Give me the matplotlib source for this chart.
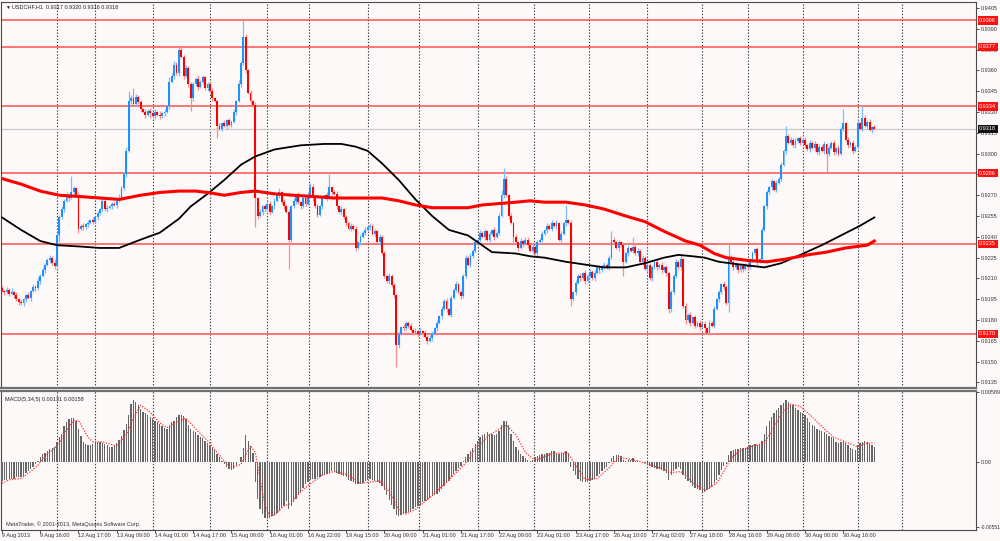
import matplotlib
matplotlib.use('Agg')
import matplotlib.pyplot as plt
import matplotlib.transforms as mtransforms
import numpy as np

plt.rcParams['font.family'] = ['Liberation Sans', 'DejaVu Sans']

# USDCHF H1, closes in pips above 0.9000 (one value per bar)
closes = [
    201, 200, 202, 199, 200, 198, 195, 193, 192, 195,
    198, 196, 201, 204, 203, 208, 212, 216, 220, 223,
    225, 221, 219, 241, 254, 260, 266, 270, 268, 272,
    275, 270, 246, 248, 247, 249, 250, 252, 251, 254,
    257, 260, 266, 260, 261, 262, 264, 263, 266, 268,
    275, 285, 302, 338, 340, 336, 341, 337, 332, 330,
    328, 331, 329, 327, 330, 328, 327, 329, 330, 334,
    352, 356, 364, 358, 375, 370, 356, 362, 350, 340,
    350, 354, 348, 352, 355, 347, 350, 345, 340, 338,
    320, 318, 322, 320, 324, 321, 323, 330, 338, 350,
    365, 384, 360, 344, 338, 335, 268, 255, 258, 262,
    260, 264, 258, 262, 266, 270, 272, 265, 262, 258,
    238, 262, 266, 270, 265, 262, 268, 264, 270, 276,
    268, 262, 256, 262, 268, 270, 268, 276, 272, 271,
    262, 258, 260, 254, 250, 246, 248, 246, 232, 236,
    240, 243, 245, 247, 248, 242, 244, 236, 240, 228,
    212, 208, 212, 205, 198, 162, 170, 175, 174, 178,
    176, 173, 171, 172, 170, 172, 171, 168, 165, 167,
    170, 174, 178, 183, 188, 194, 188, 184, 196, 202,
    206, 200, 197, 212, 225, 220, 226, 230, 236, 238,
    243, 240, 244, 238, 242, 245, 240, 243, 255, 270,
    282, 270, 255, 250, 240, 236, 232, 237, 235, 238,
    234, 230, 233, 228, 236, 238, 242, 245, 248, 246,
    250, 248, 250, 238, 242, 250, 252, 250, 195, 200,
    207, 212, 210, 214, 208, 212, 215, 210, 214, 218,
    216, 219, 220, 218, 225, 238, 236, 232, 236, 234,
    222, 228, 232, 230, 233, 228, 230, 222, 225, 217,
    220, 210, 218, 222, 218, 220, 216, 218, 214, 188,
    200, 212, 222, 218, 224, 190, 180, 184, 178, 182,
    176, 178, 175, 177, 174, 171, 178, 176, 188, 195,
    200, 206, 204, 192, 225, 222, 218, 220, 216, 219,
    217, 220, 218, 224, 228, 231, 222, 224, 245, 262,
    272, 276, 280, 274, 279, 282, 292, 302, 313, 308,
    310, 306, 309, 311, 308, 310, 306, 303, 308, 304,
    307, 301, 305, 302, 307, 300, 304, 308, 301, 304,
    300, 318, 322, 310, 306, 308, 302, 305, 322, 318,
    326, 320, 323, 317, 319, 318,
]
first_open = 203

# wick lengths in pips above / below the body (base-36 digits, one per bar)
wick_up = ("2121312121 1212131212 213122121c 2121212121 2121211213 "
           "2237272121 2121213121 3232221212 2131212121 1212121213 "
           "2c21212121 2121213121 2121212123 2121212912 2121212121 "
           "2121212121 2121212121 1212121212 2121212121 2121212121 "
           "2121212124 8212121212 2121212121 212121b121 2121212121 "
           "2121262121 2121712121 2121212121 2121312121 2121212121 "
           "2121a21212 2121212121 2121212171 2121212121 2121212121 "
           "21a1212121 821212")
wick_dn = ("1212121212 2121212121 2121512121 2131212121 2121212121 "
           "2121212121 2131212121 2121212129 2121212121 9121212121 "
           "212121l212 2121212121 l212121212 2121212121 2121212121 "
           "2121212121 21212g2121 2121212121 2121212121 2121212121 "
           "2121212121 2121412121 2121212121 2121212151 2121212121 "
           "2121212121 a121212121 2121212123 2121213121 2121412121 "
           "2121612121 2121212121 2121212121 2121212121 21212d2121 "
           "2121212121 212121")

# moving averages read at sample bars (pips above 0.9000)
ma_red_bars = [0, 8, 16, 24, 33, 41, 49, 58, 66, 74, 81, 86, 93, 100, 106, 114, 122, 131,
               139, 148, 153, 159, 166, 173, 180, 187, 195, 201, 208, 215, 221, 227, 236,
               244, 252, 261, 269, 277, 286, 292, 298, 303, 312, 320, 328, 337, 345, 353,
               362, 365]
ma_red_vals = [282, 278, 273, 270, 269, 268, 267, 270, 272, 273, 273, 272, 270, 272, 273,
               271, 270, 269, 268, 268, 268, 268, 266, 263, 261, 261, 261, 263, 264, 265,
               266, 265, 265, 263, 260, 255, 251, 244, 237, 234, 228, 225, 223, 222, 224,
               227, 229, 232, 234, 237]
ma_black_bars = [0, 8, 16, 23, 33, 41, 49, 52, 58, 66, 74, 79, 86, 93, 100, 106, 114, 125,
                 135, 142, 148, 153, 159, 166, 173, 180, 187, 195, 200, 205, 215, 221, 227,
                 236, 244, 252, 261, 269, 277, 283, 289, 294, 300, 309, 319, 326, 334, 343,
                 351, 359, 365]
ma_black_vals = [254, 245, 237, 234, 233, 232, 232, 234, 238, 243, 253, 262, 271, 281, 292,
                 298, 303, 306, 307, 307, 305, 302, 293, 281, 267, 255, 245, 241, 235, 229,
                 228, 226, 225, 222, 220, 218, 218, 221, 225, 227, 226, 225, 222, 220, 218,
                 221, 227, 234, 241, 248, 254]

# MACD(5,34,5) histogram, units of 0.0001
macd_hist = [
    -16, -15, -15, -14, -14, -14, -13, -13, -13, -12,
    -9, -8, -6, -4, -2, 1, 4, 7, 8, 9,
    11, 12, 13, 17, 21, 24, 30, 34, 36, 37,
    37, 35, 28, 22, 17, 15, 14, 14, 15, 16,
    17, 17, 16, 15, 14, 13, 13, 14, 16, 19,
    22, 27, 32, 40, 49, 52, 51, 48, 45, 42,
    41, 40, 38, 37, 35, 34, 32, 30, 29, 28,
    30, 34, 35, 38, 40, 40, 39, 36, 31, 28,
    26, 25, 23, 21, 20, 18, 16, 14, 12, 10,
    7, 4, 1, -2, -4, -6, -7, -6, -3, 0,
    4, 12, 23, 18, 13, 8, -17, -31, -40, -44,
    -47, -48, -47, -46, -45, -43, -41, -39, -37, -33,
    -40, -37, -34, -31, -28, -25, -22, -19, -17, -15,
    -14, -14, -13, -13, -12, -11, -10, -9, -8, -8,
    -9, -10, -11, -12, -13, -15, -16, -17, -19, -19,
    -19, -18, -16, -15, -14, -15, -16, -17, -18, -20,
    -24, -28, -32, -36, -40, -45, -46, -45, -44, -43,
    -42, -41, -40, -38, -37, -36, -34, -33, -32, -30,
    -29, -28, -27, -25, -23, -20, -18, -16, -13, -10,
    -8, -5, -3, 1, 4, 7, 9, 12, 15, 18,
    21, 23, 24, 25, 24, 24, 23, 24, 26, 31,
    35, 35, 31, 24, 18, 13, 10, 7, 5, 3,
    2, 1, 2, 4, 5, 6, 7, 7, 8, 8,
    9, 9, 8, 7, 8, 8, 9, 8, -4, -8,
    -11, -14, -16, -17, -17, -17, -16, -15, -14, -12,
    -10, -8, -6, -4, -1, 3, 5, 6, 6, 5,
    2, 1, 2, 2, 3, 1, 1, 0, 0, -1,
    -2, -3, -4, -5, -6, -6, -7, -8, -9, -15,
    -11, -8, -6, -4, -6, -11, -14, -16, -18, -20,
    -22, -23, -24, -25, -25, -24, -23, -21, -18, -15,
    -11, -7, -3, -2, 6, 9, 10, 11, 11, 12,
    12, 12, 13, 14, 14, 15, 14, 15, 18, 24,
    30, 35, 38, 41, 44, 46, 48, 50, 52, 51,
    49, 48, 46, 44, 42, 41, 40, 37, 34, 31,
    30, 28, 27, 26, 25, 24, 22, 21, 20, 17,
    16, 17, 18, 16, 14, 12, 11, 10, 14, 16,
    17, 18, 17, 15, 14, 13,
]
signal_bars = [0, 3, 8, 12, 15, 17, 21, 24, 27, 30, 32, 34, 36, 38, 42, 47, 49, 52, 55, 58,
               62, 66, 69, 72, 77, 81, 86, 90, 95, 97, 100, 104, 106, 108, 110, 112, 114,
               118, 121, 125, 128, 134, 139, 145, 150, 154, 158, 162, 166, 169, 173, 179,
               186, 190, 194, 198, 204, 211, 215, 219, 222, 224, 230, 236, 238, 241, 244,
               249, 254, 258, 261, 266, 272, 277, 280, 284, 290, 294, 299, 302, 305, 309,
               315, 319, 322, 326, 330, 334, 338, 344, 348, 354, 358, 362, 365]
signal_vals = [-18, -15, -14, -8, -3, 3, 10, 16, 27, 35, 35, 28, 21, 17, 17, 14, 15, 23, 37,
               48, 42, 33, 29, 33, 37, 28, 18, 8, -4, -4, -2, 14, 8, -15, -36, -46, -45,
               -37, -35, -25, -20, -11, -8, -11, -18, -17, -16, -25, -40, -44, -40, -30,
               -17, -9, -1, 11, 23, 31, 23, 8, 3, 2, 7, 8, 4, -6, -15, -14, -5, 4, 3, 1,
               -3, -6, -9, -8, -19, -24, -18, -8, 3, 10, 14, 16, 26, 40, 49, 47, 40, 28,
               21, 16, 13, 16, 16]

time_labels = ["9 Aug 2013", "9 Aug 16:00", "12 Aug 17:00", "13 Aug 09:00", "14 Aug 01:00",
               "14 Aug 17:00", "15 Aug 09:00", "16 Aug 01:00", "16 Aug 22:00", "19 Aug 15:00",
               "20 Aug 09:00", "21 Aug 01:00", "21 Aug 17:00", "22 Aug 09:00", "23 Aug 01:00",
               "23 Aug 17:00", "26 Aug 10:00", "27 Aug 02:00", "27 Aug 18:00", "28 Aug 16:00",
               "29 Aug 08:00", "30 Aug 00:00", "30 Aug 16:00"]
levels = [0.9396, 0.9377, 0.9334, 0.9286, 0.9235, 0.9170]
bid = 0.9318
separators = [23, 39, 63, 87, 111, 128.5, 153, 174.5, 199, 222.5, 245.5, 270, 293, 312,
              335, 358, 376.5]

# ---- build OHLC ----
c = 0.9 + np.array(closes) / 10000
o = np.r_[0.9 + first_open / 10000, c[:-1]]
up = np.array([int(ch, 36) for ch in wick_up.replace(' ', '')]) / 10000
dn = np.array([int(ch, 36) for ch in wick_dn.replace(' ', '')]) / 10000
hi = np.maximum(o, c) + up
lo = np.minimum(o, c) - dn
x = np.arange(len(c))
bull = c >= o

bg = '#fcf9f8'
W, H = 1000, 541
fig = plt.figure(figsize=(10, 5.41), dpi=100, facecolor=bg)
ax = fig.add_axes([1 / W, 1 - 388 / H, 975 / W, 386 / H], facecolor=bg)
axm = fig.add_axes([1 / W, 1 - 530 / H, 975 / W, 139 / H], facecolor=bg)

xlim = ((1 - 2) / 2.39, (976 - 2) / 2.39)
for a in (ax, axm):
    a.set_xlim(*xlim)
    for s in a.spines.values():
        s.set_color('#4a4a4a')
        s.set_linewidth(0.8)
    for sx in separators:
        a.axvline(sx, color='#3c3c3c', lw=0.8, ls=(0, (1.2, 1.6)), zorder=1)
ax.spines['bottom'].set_linewidth(1.6)
ax.spines['bottom'].set_color('#707070')
axm.spines['top'].set_linewidth(1.6)
axm.spines['top'].set_color('#707070')

# ---- main panel ----
ax.set_ylim(0.9405 - 380 / 13870, 0.9405 + 6 / 13870)
for lv in levels:
    ax.axhline(lv, color='#ff5050', lw=1.1, zorder=2)
ax.axhline(bid, color='#c8c8c8', lw=0.9, zorder=2)

ax.vlines(x[bull], lo[bull], hi[bull], color='#7fbcff', lw=0.9, zorder=3)
ax.vlines(x[~bull], lo[~bull], hi[~bull], color='#ff8c8c', lw=0.9, zorder=3)
body = np.where(np.abs(c - o) < 0.00005, 0.00005, c - o)
ax.bar(x[bull], body[bull], bottom=o[bull], width=0.78, color='#1e90ff', lw=0, zorder=3)
ax.bar(x[~bull], body[~bull], bottom=o[~bull], width=0.78, color='#ff0000', lw=0, zorder=3)

ax.plot(ma_black_bars, 0.9 + np.array(ma_black_vals) / 10000, color='black', lw=1.3, zorder=4)
ax.plot(ma_red_bars, 0.9 + np.array(ma_red_vals) / 10000, color='#ff0000', lw=2.2, zorder=4)

price_ticks = np.round(np.arange(0.9135, 0.94051, 0.0015), 4)
ax.yaxis.tick_right()
ax.set_yticks(price_ticks)
ax.set_yticklabels([f'{p:.4f}' for p in price_ticks])
ax.tick_params(axis='y', length=2, width=0.6, pad=1.5, labelsize=4, colors='#333333')
ax.set_xticks([])

yt = mtransforms.blended_transform_factory(ax.transAxes, ax.transData)
for lv in levels:
    ax.text(1.0033, lv, f'{lv:.4f}', transform=yt, ha='left', va='center', fontsize=4,
            color='white', zorder=6, clip_on=False,
            bbox=dict(boxstyle='square,pad=0.3', fc='#ff1010', ec='none'))
ax.text(1.0033, bid, f'{bid:.4f}', transform=yt, ha='left', va='center', fontsize=4,
        color='white', zorder=6, clip_on=False,
        bbox=dict(boxstyle='square,pad=0.3', fc='#111111', ec='none'))

fig.text(5 / W, 1 - 7 / H, '\u25bc', fontsize=3.5, va='center', ha='left', color='#222222')
fig.text(12 / W, 1 - 7 / H, 'USDCHF,H1  0.9317 0.9320 0.9316 0.9318', fontsize=4,
         va='center', ha='left', color='#222222')

# ---- MACD panel ----
axm.set_ylim(-(530 - 462) * 0.845, (462 - 391) * 0.845)
axm.bar(x, macd_hist, width=0.55, color='#666666', lw=0, zorder=3)
axm.plot(signal_bars, signal_vals, color='#ff3030', lw=0.9, ls=(0, (1.0, 1.2)), zorder=4)
axm.yaxis.tick_right()
axm.set_yticks([58.9, 0, -55.1])
axm.set_yticklabels(['0.00589', '0.00', '-0.00551'])
axm.tick_params(axis='y', length=2, width=0.6, pad=1.2, labelsize=4, colors='#333333')
axm.get_yticklabels()[-1].set_fontsize(3.6)
axm.set_xticks([16 * i for i in range(len(time_labels))])
axm.set_xticklabels(time_labels, ha='left')
axm.tick_params(axis='x', length=2, width=0.6, pad=0.5, labelsize=4, colors='#333333')

axm.text(0.004, 0.955, 'MACD(5,34,5) 0.00131 0.00158', transform=axm.transAxes, fontsize=4,
         ha='left', va='top', color='#222222')
axm.text(0.005, 0.025, 'MetaTrader, \u00a9 2001-2013, MetaQuotes Software Corp.',
         transform=axm.transAxes, fontsize=4, ha='left', va='bottom', color='#333333')

fig.savefig('out.png', dpi=100, facecolor=bg)
